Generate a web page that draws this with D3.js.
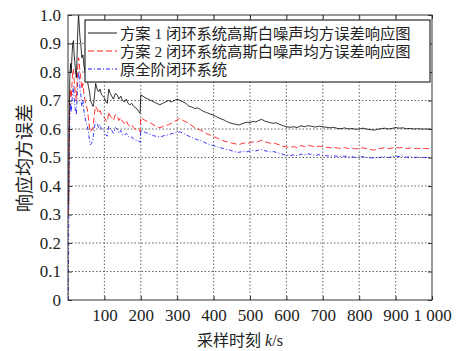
<!DOCTYPE html>
<html>
<head>
<meta charset="utf-8">
<script src="https://d3js.org/d3.v7.min.js"></script>
<style>
  body { margin: 0; background: #fff; }
  text { font-family: "Liberation Serif", "Noto Sans CJK SC", serif; fill: #222; }
</style>
</head>
<body>
<div id="chart"></div>
<script>
// data: [k, mse]
var scheme1 = [[1,0.33],[2,0.38],[3,0.6],[5,0.78],[7,0.83],[9,0.8],[11,0.86],[13,0.9],[15,0.91],[17,0.86],[19,0.83],[21,0.8],[23,0.78],[25,0.86],[27,0.95],[29,1.0],[31,0.96],[33,0.92],[35,0.9],[38,0.85],[41,0.86],[44,0.82],[47,0.8],[50,0.78],[53,0.77],[56,0.75],[59,0.73],[62,0.7],[65,0.69],[68,0.68],[70,0.68],[73,0.72],[76,0.76],[80,0.74],[84,0.73],[88,0.74],[92,0.72],[96,0.715],[100,0.71],[104,0.695],[108,0.69],[112,0.74],[116,0.725],[120,0.715],[125,0.705],[130,0.725],[135,0.72],[140,0.705],[145,0.715],[150,0.7],[155,0.695],[160,0.705],[165,0.69],[170,0.685],[175,0.69],[180,0.68],[185,0.675],[190,0.67],[195,0.66],[198,0.655],[200,0.72],[206,0.715],[212,0.71],[220,0.705],[228,0.7],[236,0.695],[244,0.69],[252,0.685],[260,0.69],[268,0.695],[276,0.7],[284,0.695],[292,0.7],[300,0.705],[308,0.7],[316,0.695],[324,0.69],[332,0.68],[340,0.677],[348,0.672],[356,0.674],[364,0.668],[372,0.662],[380,0.658],[388,0.654],[396,0.65],[404,0.646],[412,0.64],[420,0.636],[428,0.632],[436,0.626],[444,0.622],[452,0.619],[460,0.617],[468,0.614],[476,0.617],[484,0.621],[492,0.624],[500,0.622],[508,0.627],[516,0.625],[524,0.63],[532,0.634],[540,0.628],[548,0.625],[556,0.622],[564,0.62],[572,0.622],[580,0.617],[590,0.612],[600,0.608],[610,0.606],[620,0.608],[630,0.605],[640,0.611],[650,0.608],[660,0.612],[670,0.609],[680,0.607],[690,0.61],[700,0.608],[710,0.606],[720,0.604],[730,0.606],[740,0.602],[750,0.601],[760,0.604],[770,0.6],[780,0.602],[790,0.599],[800,0.6],[810,0.603],[820,0.6],[830,0.598],[840,0.596],[850,0.599],[860,0.601],[870,0.603],[880,0.6],[890,0.602],[900,0.605],[910,0.603],[920,0.604],[930,0.601],[940,0.602],[950,0.6],[960,0.601],[970,0.6],[980,0.6],[990,0.6],[1000,0.599]];

var scheme2 = [[1,0.3],[2,0.34],[3,0.55],[5,0.7],[7,0.74],[9,0.71],[11,0.76],[13,0.8],[15,0.81],[17,0.77],[19,0.74],[21,0.72],[23,0.7],[25,0.76],[27,0.82],[29,0.85],[31,0.83],[33,0.8],[35,0.78],[38,0.74],[41,0.76],[44,0.72],[47,0.7],[50,0.68],[53,0.67],[56,0.64],[59,0.6],[62,0.59],[65,0.6],[68,0.6],[70,0.62],[73,0.66],[76,0.68],[80,0.67],[84,0.655],[88,0.665],[92,0.65],[96,0.645],[100,0.64],[104,0.63],[108,0.625],[112,0.66],[116,0.645],[120,0.64],[125,0.63],[130,0.65],[135,0.645],[140,0.63],[145,0.64],[150,0.625],[155,0.62],[160,0.63],[165,0.615],[170,0.61],[175,0.615],[180,0.605],[185,0.6],[190,0.6],[195,0.595],[198,0.59],[200,0.64],[206,0.635],[212,0.63],[220,0.625],[228,0.62],[236,0.614],[244,0.608],[252,0.605],[260,0.608],[268,0.612],[276,0.615],[284,0.62],[292,0.626],[300,0.632],[308,0.638],[316,0.63],[324,0.625],[332,0.62],[340,0.612],[348,0.605],[356,0.6],[364,0.596],[372,0.59],[380,0.584],[388,0.58],[396,0.575],[404,0.571],[412,0.567],[420,0.562],[428,0.558],[436,0.555],[444,0.553],[452,0.55],[460,0.548],[468,0.545],[476,0.548],[484,0.551],[492,0.549],[500,0.552],[508,0.555],[516,0.553],[524,0.557],[532,0.56],[540,0.555],[548,0.553],[556,0.55],[564,0.552],[572,0.548],[580,0.545],[590,0.54],[600,0.537],[610,0.536],[620,0.538],[630,0.535],[640,0.542],[650,0.538],[660,0.543],[670,0.54],[680,0.537],[690,0.54],[700,0.538],[710,0.536],[720,0.534],[730,0.536],[740,0.533],[750,0.532],[760,0.535],[770,0.531],[780,0.533],[790,0.53],[800,0.531],[810,0.534],[820,0.531],[830,0.528],[840,0.526],[850,0.529],[860,0.532],[870,0.534],[880,0.531],[890,0.533],[900,0.535],[910,0.534],[920,0.535],[930,0.532],[940,0.533],[950,0.531],[960,0.532],[970,0.531],[980,0.532],[990,0.531],[1000,0.53]];

var fullOrder = [[1,0.0],[2,0.3],[3,0.5],[5,0.64],[7,0.69],[9,0.66],[11,0.7],[13,0.73],[15,0.75],[17,0.71],[19,0.68],[21,0.66],[23,0.65],[25,0.71],[27,0.77],[29,0.8],[31,0.78],[33,0.74],[35,0.72],[38,0.68],[41,0.7],[44,0.66],[47,0.64],[50,0.62],[53,0.61],[56,0.59],[59,0.56],[62,0.545],[65,0.55],[68,0.56],[70,0.58],[73,0.61],[76,0.625],[80,0.62],[84,0.605],[88,0.615],[92,0.6],[96,0.595],[100,0.59],[104,0.58],[108,0.575],[112,0.61],[116,0.6],[120,0.595],[125,0.585],[130,0.605],[135,0.6],[140,0.585],[145,0.595],[150,0.58],[155,0.578],[160,0.585],[165,0.575],[170,0.57],[175,0.572],[180,0.565],[185,0.56],[190,0.56],[195,0.557],[198,0.553],[200,0.596],[206,0.592],[212,0.588],[220,0.584],[228,0.58],[236,0.576],[244,0.574],[252,0.572],[260,0.575],[268,0.578],[276,0.58],[284,0.583],[292,0.586],[300,0.588],[308,0.59],[316,0.585],[324,0.58],[332,0.575],[340,0.57],[348,0.566],[356,0.562],[364,0.56],[372,0.555],[380,0.55],[388,0.546],[396,0.543],[404,0.54],[412,0.537],[420,0.534],[428,0.531],[436,0.528],[444,0.526],[452,0.523],[460,0.52],[468,0.518],[476,0.52],[484,0.522],[492,0.52],[500,0.523],[508,0.525],[516,0.523],[524,0.526],[532,0.528],[540,0.524],[548,0.522],[556,0.52],[564,0.521],[572,0.518],[580,0.515],[590,0.511],[600,0.508],[610,0.507],[620,0.509],[630,0.506],[640,0.512],[650,0.509],[660,0.513],[670,0.51],[680,0.507],[690,0.51],[700,0.508],[710,0.506],[720,0.505],[730,0.506],[740,0.504],[750,0.503],[760,0.505],[770,0.502],[780,0.503],[790,0.5],[800,0.501],[810,0.503],[820,0.5],[830,0.499],[840,0.498],[850,0.499],[860,0.501],[870,0.503],[880,0.5],[890,0.502],[900,0.505],[910,0.503],[920,0.504],[930,0.501],[940,0.502],[950,0.5],[960,0.501],[970,0.5],[980,0.5],[990,0.5],[1000,0.499]];

var xTicks = [100, 200, 300, 400, 500, 600, 700, 800, 900, 1000];
var xTickLabels = ["100", "200", "300", "400", "500", "600", "700", "800", "900", "1 000"];
var yTicks = [0, 0.1, 0.2, 0.3, 0.4, 0.5, 0.6, 0.7, 0.8, 0.9, 1.0];
var yTickLabels = ["0", "0.1", "0.2", "0.3", "0.4", "0.5", "0.6", "0.7", "0.8", "0.9", "1.0"];
var legendNames = ["方案 1 闭环系统高斯白噪声均方误差响应图", "方案 2 闭环系统高斯白噪声均方误差响应图", "原全阶闭环系统"];

var svgWidth = 465, svgHeight = 351;
var margin = { top: 15, right: 33, bottom: 51, left: 68 };
var width = svgWidth - margin.left - margin.right;
var height = svgHeight - margin.top - margin.bottom;

var svg = d3.select("#chart").append("svg")
  .attr("width", svgWidth)
  .attr("height", svgHeight);

var chartGroup = svg.append("g")
  .attr("transform", `translate(${margin.left}, ${margin.top})`);

var xScale = d3.scaleLinear().domain([0, 1000]).range([0, width]);
var yScale = d3.scaleLinear().domain([0, 1]).range([height, 0]);

// dotted grid
chartGroup.append("g")
  .selectAll("line").data(xTicks.slice(0, -1)).enter().append("line")
  .attr("x1", d => xScale(d)).attr("x2", d => xScale(d))
  .attr("y1", 0).attr("y2", height)
  .attr("stroke", "#555").attr("stroke-width", 0.9).attr("stroke-dasharray", "1.5,2");
chartGroup.append("g")
  .selectAll("line").data(yTicks.slice(1, -1)).enter().append("line")
  .attr("x1", 0).attr("x2", width)
  .attr("y1", d => yScale(d)).attr("y2", d => yScale(d))
  .attr("stroke", "#555").attr("stroke-width", 0.9).attr("stroke-dasharray", "1.5,2");

// lines
svg.append("clipPath").attr("id", "clip")
  .append("rect").attr("x", 0).attr("y", -1).attr("width", width).attr("height", height + 2);

var line = d3.line().x(d => xScale(d[0])).y(d => yScale(d[1]));

var series = [
  { data: scheme1, color: "#000", dash: null },
  { data: scheme2, color: "#f00", dash: "6,3" },
  { data: fullOrder, color: "#00f", dash: "4,2,1,2" }
];

var plot = chartGroup.append("g").attr("clip-path", "url(#clip)");
series.slice().reverse().forEach(function(s) {
  plot.append("path")
    .datum(s.data)
    .attr("d", line)
    .attr("fill", "none")
    .attr("stroke", s.color)
    .attr("stroke-width", 0.8)
    .attr("stroke-dasharray", s.dash);
});

// axes with inward ticks on all sides
var bottomAxis = d3.axisBottom(xScale).tickValues(xTicks).tickSize(-4).tickPadding(9)
  .tickFormat((d, i) => xTickLabels[i]);
var leftAxis = d3.axisLeft(yScale).tickValues(yTicks).tickSize(-4).tickPadding(7)
  .tickFormat((d, i) => yTickLabels[i]);
var topAxis = d3.axisTop(xScale).tickValues(xTicks).tickSize(-4).tickFormat("");
var rightAxis = d3.axisRight(yScale).tickValues(yTicks).tickSize(-4).tickFormat("");

function styleAxis(g) {
  g.select(".domain").remove();
  g.selectAll("line").attr("stroke", "#333");
  g.selectAll("text").attr("font-size", "17px").attr("fill", "#222")
    .attr("font-family", "Liberation Serif, serif");
}

chartGroup.append("g").attr("transform", `translate(0, ${height})`).call(bottomAxis).call(styleAxis);
chartGroup.append("g").call(leftAxis).call(styleAxis);
chartGroup.append("g").call(topAxis).call(styleAxis);
chartGroup.append("g").attr("transform", `translate(${width}, 0)`).call(rightAxis).call(styleAxis);

chartGroup.append("rect")
  .attr("x", 0).attr("y", 0).attr("width", width).attr("height", height)
  .attr("fill", "none").attr("stroke", "#333").attr("stroke-width", 1);

// legend
var legend = chartGroup.append("g").attr("transform", "translate(17, 5)");
legend.append("rect")
  .attr("x", 0).attr("y", 0).attr("width", 345).attr("height", 62)
  .attr("fill", "#fff").attr("stroke", "#000").attr("stroke-width", 1);

var rows = legend.selectAll("g.row").data(series).enter().append("g")
  .attr("transform", (d, i) => `translate(0, ${13 + i * 18})`);
rows.append("line")
  .attr("x1", 3).attr("x2", 32).attr("y1", 0).attr("y2", 0)
  .attr("stroke", d => d.color).attr("stroke-width", 0.9)
  .attr("stroke-dasharray", d => d.dash);
rows.append("text")
  .attr("x", 35).attr("y", 0).attr("dy", "0.36em")
  .attr("font-size", "15.3px")
  .text((d, i) => legendNames[i]);

// axis titles
var xTitle = svg.append("text")
  .attr("x", 240).attr("y", 346)
  .attr("text-anchor", "middle")
  .attr("font-size", "16px");
xTitle.append("tspan").text("采样时刻 ");
xTitle.append("tspan").attr("font-style", "italic").text("k");
xTitle.append("tspan").text("/s");

svg.append("text")
  .attr("transform", "translate(25, 158) rotate(-90)")
  .attr("text-anchor", "middle")
  .attr("dy", "0.36em")
  .attr("font-size", "18px")
  .text("响应均方误差");
</script>
</body>
</html>
